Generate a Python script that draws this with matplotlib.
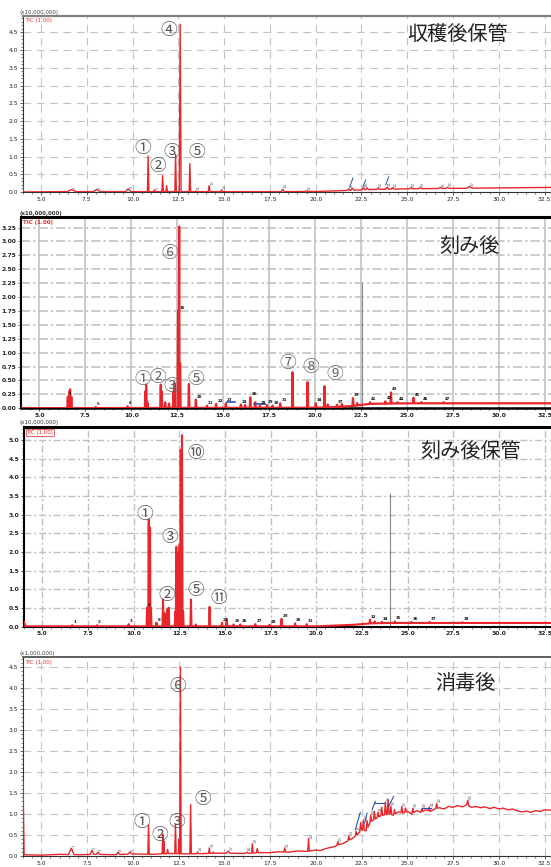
import numpy as np
import matplotlib
matplotlib.use('Agg')
import matplotlib.pyplot as plt
from matplotlib.ticker import MultipleLocator, FormatStrFormatter

plt.rcParams['font.family'] = ['DejaVu Sans']
CJK = ['Noto Sans CJK JP', 'DejaVu Sans']

# ------------------------------------------------------------------ data
x_ticks = [5.0, 7.5, 10.0, 12.5, 15.0, 17.5, 20.0, 22.5, 25.0, 27.5, 30.0, 32.5]

# Panel 1 : 収穫後保管  (x10,000,000)
p1_title = '収穫後保管'
p1_scale = '(x10,000,000)'
p1_start = 0.20
p1_rt = [6.67, 8.04, 9.76, 10.85, 11.2, 11.64, 11.86, 12.35, 12.6, 13.13, 13.45, 14.18, 14.86,
         18.2, 19.5, 21.8, 22.0, 22.6, 22.8, 23.4, 23.9, 24.2, 25.2, 25.7, 26.8, 27.2, 28.4]
p1_h = [0.06, 0.06, 0.08, 1.0, 0.05, 0.45, 0.17, 1.05, 4.72, 0.79, 0.02, 0.17, 0.05,
        0.07, 0.02, 0.04, 0.06, 0.06, 0.05, 0.04, 0.06, 0.04, 0.03, 0.03, 0.03, 0.03, 0.05]
p1_w = [0.25, 0.2, 0.15, 0.04, 0.04, 0.04, 0.04, 0.04, 0.05, 0.04, 0.04, 0.05, 0.05,
        0.08, 0.08, 0.08, 0.08, 0.08, 0.08, 0.08, 0.08, 0.08, 0.1, 0.1, 0.1, 0.1, 0.15]
p1_base_t = [4.05, 6, 8, 10, 14, 18, 20, 21, 22, 23, 24, 25, 27, 29, 31, 32.9]
p1_base_y = [0.0, 0.01, 0.01, 0.01, 0.01, 0.01, 0.015, 0.03, 0.05, 0.07, 0.08, 0.09, 0.1, 0.11, 0.12, 0.13]
p1_marks = ['①', '②', '③', '④', '⑤']
p1_mark_x = [10.58, 11.40, 12.13, 11.98, 13.53]
p1_mark_y = [1.23, 0.71, 1.12, 4.55, 1.12]
p1_blue = [(21.86, 0.15, 22.04, 0.40), (22.58, 0.15, 22.73, 0.34), (23.82, 0.20, 23.99, 0.43)]

# Panel 2 : 刻み後
p2_title = '刻み後'
p2_scale = '(x10,000,000)'
p2_rt = [6.55, 6.62, 6.67, 6.74, 8.07, 9.8, 10.77, 10.81, 10.88, 11.61, 11.66, 11.85, 12.06,
         12.3, 12.35, 12.55, 12.61, 12.66, 13.14, 13.52, 14.12, 14.62, 15.15, 15.97, 16.2,
         16.48, 16.75, 17.0, 17.39, 17.7, 18.11, 18.78, 19.6, 20.05, 20.52, 20.7, 21.2, 21.47,
         22.07, 22.3, 23.0, 23.83, 24.14, 24.5, 25.37, 25.8, 27.0]
p2_h = [0.2, 0.3, 0.34, 0.2, 0.02, 0.03, 0.3, 0.42, 0.1, 0.42, 0.3, 0.1, 0.08,
        0.3, 0.45, 1.75, 3.26, 0.8, 0.43, 0.15, 0.04, 0.07, 0.08, 0.06, 0.05,
        0.19, 0.1, 0.04, 0.05, 0.04, 0.08, 0.64, 0.46, 0.08, 0.38, 0.05, 0.04, 0.05,
        0.14, 0.04, 0.03, 0.04, 0.2, 0.02, 0.1, 0.02, 0.02]
p2_w = [0.03] * len(p2_rt)
p2_base_t = [4.0, 10, 20, 21, 22, 22.5, 23, 25, 28, 32.9]
p2_base_y = [0.0, 0.005, 0.01, 0.02, 0.04, 0.06, 0.08, 0.09, 0.09, 0.09]
p2_marks = ['⑥', '①', '②', '③', '⑤', '⑦', '⑧', '⑨']
p2_mark_x = [12.08, 10.60, 11.44, 12.21, 13.50, 18.51, 19.78, 21.05]
p2_mark_y = [2.78, 0.51, 0.55, 0.39, 0.51, 0.81, 0.73, 0.61]
p2_blue = [(15.2, 0.11, 15.66, 0.11), (16.69, 0.08, 17.29, 0.08)]
p2_gray = (22.56, 2.25)

# Panel 3 : 刻み後保管
p3_title = '刻み後保管'
p3_scale = '(x10,000,000)'
p3_start = 0.13
p3_rt = [6.64, 8.0, 9.73, 10.74, 10.83, 10.9, 10.95, 11.25, 11.61, 11.7, 11.83, 11.92, 12.28,
         12.34, 12.43, 12.52, 12.58, 12.65, 12.71, 13.14, 13.41, 14.16, 14.84, 15.1, 15.47,
         15.84, 16.66, 17.44, 18.1, 18.84, 19.48, 22.94, 23.2, 23.6, 24.3, 25.2, 26.2, 28.0]
p3_h = [0.03, 0.03, 0.06, 0.5, 2.86, 2.65, 0.5, 0.1, 0.72, 0.35, 0.45, 0.5, 0.4,
        2.13, 1.97, 2.19, 4.73, 5.12, 0.4, 0.72, 0.05, 0.52, 0.1, 0.2, 0.05,
        0.05, 0.06, 0.04, 0.2, 0.08, 0.06, 0.1, 0.05, 0.04, 0.04, 0.03, 0.03, 0.02]
p3_w = [0.03] * len(p3_rt)
p3_base_t = [4.08, 10, 20, 21, 22, 22.5, 23, 24, 26, 28, 30, 32.9]
p3_base_y = [0.01, 0.01, 0.01, 0.03, 0.05, 0.07, 0.09, 0.1, 0.1, 0.1, 0.1, 0.1]
p3_marks = ['⑩', '①', '③', '②', '⑤', '⑪']
p3_mark_x = [13.38, 10.61, 11.97, 11.83, 13.38, 14.65]
p3_mark_y = [4.64, 3.01, 2.38, 0.83, 0.98, 0.76]
p3_gray = (24.03, 3.59)

# Panel 4 : 消毒後  (x1,000,000)
p4_title = '消毒後'
p4_scale = '(x1,000,000)'
p4_start = 1.80
p4_rt = [6.64, 7.77, 8.1, 9.2, 9.84, 10.86, 11.64, 11.7, 11.9, 12.33, 12.52, 12.6, 13.16,
         13.54, 14.18, 14.4, 15.22, 16.22, 16.53, 16.8, 18.3, 19.6, 21.2, 21.8, 22.2, 22.45,
         22.6, 22.8, 23.0, 23.2, 23.4, 23.6, 23.8, 23.95, 24.1, 24.3, 24.7, 24.9, 25.3, 25.8,
         26.2, 26.6, 28.3]
p4_h = [0.15, 0.1, 0.05, 0.06, 0.05, 0.7, 0.46, 0.3, 0.1, 0.7, 0.35, 4.45, 1.17,
        0.04, 0.13, 0.03, 0.05, 0.02, 0.22, 0.1, 0.1, 0.3, 0.08, 0.1, 0.1, 0.2,
        0.25, 0.2, 0.15, 0.2, 0.12, 0.2, 0.3, 0.35, 0.2, 0.12, 0.15, 0.1, 0.12, 0.08,
        0.1, 0.12, 0.12]
p4_w = [0.15, 0.1, 0.1, 0.1, 0.1, 0.04, 0.04, 0.03, 0.04, 0.04, 0.03, 0.04, 0.04,
        0.05, 0.04, 0.05, 0.1, 0.1, 0.04, 0.05, 0.05, 0.04, 0.05, 0.05, 0.05, 0.05,
        0.05, 0.05, 0.05, 0.05, 0.05, 0.05, 0.05, 0.05, 0.05, 0.05, 0.05, 0.05, 0.05, 0.05,
        0.05, 0.05, 0.06]
p4_base_t = [4.06, 5, 6, 7, 8, 9, 10, 11, 12, 13, 14, 15, 16, 17, 17.5, 18, 18.5, 19, 19.5,
             20, 20.25, 20.5, 20.75, 21, 21.25, 21.5, 21.75, 22, 22.25, 22.5, 22.75, 23, 23.25,
             23.5, 23.75, 24, 24.25, 24.5, 24.75, 25, 25.25, 25.5, 25.75, 26, 26.25, 26.5,
             26.75, 27, 27.25, 27.5, 27.75, 28, 28.25, 28.5, 28.75, 29, 29.25, 29.5, 29.75,
             30, 30.25, 30.5, 30.75, 31, 31.25, 31.5, 31.75, 32, 32.25, 32.5, 32.9]
p4_base_y = [0.03, 0.02, 0.04, 0.03, 0.04, 0.03, 0.05, 0.04, 0.06, 0.05, 0.06, 0.07, 0.06,
             0.08, 0.08, 0.1, 0.09, 0.12, 0.11, 0.14, 0.13, 0.17, 0.2, 0.22, 0.27, 0.3, 0.36,
             0.42, 0.5, 0.62, 0.6, 0.82, 0.88, 0.95, 0.98, 1.0, 0.97, 1.05, 1.02, 1.06, 1.0,
             1.08, 1.04, 1.1, 1.06, 1.12, 1.15, 1.12, 1.18, 1.16, 1.2, 1.17, 1.22, 1.16, 1.18,
             1.15, 1.17, 1.13, 1.16, 1.12, 1.14, 1.1, 1.12, 1.08, 1.05, 1.07, 1.04, 1.08,
             1.06, 1.1, 1.09]
p4_marks = ['⑥', '①', '②', '③', '⑤']
p4_mark_x = [12.43, 10.51, 11.48, 12.39, 13.80]
p4_mark_y = [4.03, 0.79, 0.49, 0.80, 1.34]
p4_blue = [(22.16, 0.63, 22.43, 1.04), (22.67, 0.79, 22.80, 1.02), (23.07, 1.10, 23.25, 1.30),
           (23.16, 1.26, 23.80, 1.26), (23.98, 1.18, 24.25, 1.42), (25.81, 1.14, 26.27, 1.14)]

# ------------------------------------------------------------------ helpers
def build_trace(rt, h, w, bt, by, start=None):
    rt = np.asarray(rt, float); h = np.asarray(h, float); w = np.asarray(w, float)
    bt = np.asarray(bt, float); by = np.asarray(by, float)
    keep = np.ones(len(bt), bool)
    for r, ww in zip(rt, w):
        keep &= ~((bt > r - ww) & (bt < r + ww))
    pts = list(zip(bt[keep], by[keep]))
    for r, hh, ww in zip(rt, h, w):
        pts.append((r - ww, np.interp(r - ww, bt, by)))
        pts.append((r, np.interp(r, bt, by) + hh))
        pts.append((r + ww, np.interp(r + ww, bt, by)))
    pts.sort(key=lambda p: p[0])
    xs = [p[0] for p in pts]
    ys = [p[1] for p in pts]
    if start is not None:
        xs = [4.0] + xs
        ys = [start] + ys
    return np.array(xs), np.array(ys), np.interp(rt, bt, by) + h


W, H = 551, 867
fig = plt.figure(figsize=(W / 100, H / 100), dpi=100)


def axes_px(left, top, right, bottom):
    return fig.add_axes([left / W, 1 - bottom / H, (right - left) / W, (bottom - top) / H])


def style(ax, ylim, ystep, yminor, yfmt, bold=False):
    ax.set_xlim(4.0, 32.85)
    ax.set_ylim(*ylim)
    ax.set_xticks(x_ticks)
    ax.xaxis.set_minor_locator(MultipleLocator(0.5))
    ax.yaxis.set_major_locator(MultipleLocator(ystep))
    ax.yaxis.set_minor_locator(MultipleLocator(yminor))
    ax.yaxis.set_major_formatter(FormatStrFormatter(yfmt))
    ax.xaxis.set_major_formatter(FormatStrFormatter('%.1f'))
    ax.tick_params(which='major', labelsize=4.3, length=2.2, width=0.5, pad=1.2,
                   colors='#222', direction='out')
    ax.tick_params(which='minor', length=1.2, width=0.4, direction='out', colors='#222')
    ax.spines['right'].set_visible(False)
    ax.set_axisbelow(True)
    if bold:
        for lab in ax.get_xticklabels() + ax.get_yticklabels():
            lab.set_fontweight('bold')


def draw_marks(ax, marks, mx, my, color='#555'):
    for m, x, y in zip(marks, mx, my):
        ax.text(x, y, m, fontsize=12, family=CJK, color=color, ha='center', va='center',
                zorder=6)


def draw_tags(ax, rt, tops, rotate, bold, color, marks_x, marks_y, ymax):
    last = -99
    n = 0
    for r, t in zip(rt, tops):
        n += 1
        if r - last < 0.3:
            continue
        if any(abs(r - mx) < 0.9 and abs(t - my) < 0.09 * ymax for mx, my in zip(marks_x, marks_y)):
            last = r
            continue
        ax.text(r + 0.06, t + 0.005 * ymax, str(n), fontsize=2.8, color=color,
                rotation=90 if rotate else 0, ha='left', va='bottom',
                fontweight='bold' if bold else 'normal', zorder=5)
        last = r


RED = '#e8262b'

# ---------------- panel 1
ax1 = axes_px(22.7, 15.7, 551, 192)
style(ax1, (0, 4.97), 0.5, 0.1, '%.1f')
ax1.grid(True, which='major', color='#c4c4c4', linestyle=(0, (7, 5)), lw=0.8)
ax1.spines['top'].set_color('#808080'); ax1.spines['top'].set_linewidth(1.6)
for s in ('left', 'bottom'):
    ax1.spines[s].set_color('#333'); ax1.spines[s].set_linewidth(0.8)
x, y, tops = build_trace(p1_rt, p1_h, p1_w, p1_base_t, p1_base_y, p1_start)
ax1.plot(x, y, color=RED, lw=1.0, zorder=3)
for (a, b, c, d) in p1_blue:
    ax1.plot([a, c], [b, d], color='#3050b0', lw=0.7, zorder=4)
draw_tags(ax1, p1_rt, tops, True, False, '#666', p1_mark_x, p1_mark_y, 4.97)
draw_marks(ax1, p1_marks, p1_mark_x, p1_mark_y)
fig.text(20 / W, 1 - 12.7 / H, p1_scale, fontsize=4, color='#444', va='center')
ax1.text(0.004, 0.985, 'TIC (1.00)', transform=ax1.transAxes, fontsize=4, color=RED,
         va='top', ha='left')
fig.text(457.5 / W, 1 - 35 / H, p1_title, fontsize=14.5, family=CJK, color='#222',
         ha='center', va='center')

# ---------------- panel 2
ax2 = axes_px(21, 217, 551, 408.3)
style(ax2, (0, 3.44), 0.25, 0.05, '%.2f', bold=True)
ax2.grid(True, which='major', axis='x', color='#bdbdbd', linestyle='-', lw=1.1)
ax2.grid(True, which='major', axis='y', color='#bdbdbd', linestyle=(0, (6, 2, 1.5, 2)), lw=1.1)
ax2.spines['top'].set_color('black'); ax2.spines['top'].set_linewidth(2.2)
ax2.spines['left'].set_linewidth(1.5); ax2.spines['bottom'].set_linewidth(1.8)
x, y, tops = build_trace(p2_rt, p2_h, p2_w, p2_base_t, p2_base_y)
ax2.plot(x, y, color=RED, lw=1.6, zorder=3)
ax2.vlines(p2_gray[0], 0, p2_gray[1], color='#888', lw=0.8, zorder=2)
for (a, b, c, d) in p2_blue:
    ax2.plot([a, c], [b, d], color='#3050b0', lw=1.2, zorder=4)
draw_tags(ax2, p2_rt, tops, False, True, '#111', p2_mark_x, p2_mark_y, 3.44)
draw_marks(ax2, p2_marks, p2_mark_x, p2_mark_y, '#666')
fig.text(20 / W, 1 - 213.5 / H, p2_scale, fontsize=4, color='#333', va='center',
         fontweight='bold')
ax2.text(0.004, 0.985, 'TIC (1.00)', transform=ax2.transAxes, fontsize=4, color=RED,
         va='top', ha='left', fontweight='bold')
fig.text(470 / W, 1 - 246.7 / H, p2_title, fontsize=14.5, family=CJK, color='#222',
         ha='center', va='center')

# ---------------- panel 3
ax3 = axes_px(24, 427, 551, 626.7)
style(ax3, (0, 5.35), 0.5, 0.1, '%.1f', bold=True)
ax3.grid(True, which='major', color='#c0c0c0', linestyle=(0, (5, 2, 1.5, 2)), lw=1.0)
ax3.spines['top'].set_color('black'); ax3.spines['top'].set_linewidth(2.2)
ax3.spines['left'].set_linewidth(1.5); ax3.spines['bottom'].set_linewidth(1.5)
x, y, tops = build_trace(p3_rt, p3_h, p3_w, p3_base_t, p3_base_y, p3_start)
ax3.plot(x, y, color=RED, lw=1.5, zorder=3)
ax3.vlines(p3_gray[0], 0, p3_gray[1], color='#888', lw=0.8, zorder=2)
draw_tags(ax3, p3_rt, tops, False, True, '#111', p3_mark_x, p3_mark_y, 5.35)
draw_marks(ax3, p3_marks, p3_mark_x, p3_mark_y)
fig.text(20 / W, 1 - 423 / H, p3_scale, fontsize=4, color='#333', va='center')
ax3.text(0.004, 0.985, 'TIC (1.00)', transform=ax3.transAxes, fontsize=4, color=RED,
         va='top', ha='left', bbox=dict(boxstyle='square,pad=0.1', fc='white', ec=RED, lw=0.5))
fig.text(470.7 / W, 1 - 451.7 / H, p3_title, fontsize=14.5, family=CJK, color='#222',
         ha='center', va='center')

# ---------------- panel 4
ax4 = axes_px(23, 657, 551, 856)
style(ax4, (0, 4.74), 0.5, 0.1, '%.1f')
ax4.grid(True, which='major', color='#c4c4c4', linestyle=(0, (7, 5)), lw=0.8)
ax4.spines['top'].set_color('#444'); ax4.spines['top'].set_linewidth(1.2)
for s in ('left', 'bottom'):
    ax4.spines[s].set_color('#333'); ax4.spines[s].set_linewidth(0.8)
x, y, tops = build_trace(p4_rt, p4_h, p4_w, p4_base_t, p4_base_y, p4_start)
ax4.plot(x, y, color=RED, lw=1.0, zorder=3)
for (a, b, c, d) in p4_blue:
    ax4.plot([a, c], [b, d], color='#3050b0', lw=0.8, zorder=4)
draw_tags(ax4, p4_rt, tops, True, False, '#666', p4_mark_x, p4_mark_y, 4.74)
draw_marks(ax4, p4_marks, p4_mark_x, p4_mark_y)
fig.text(20 / W, 1 - 654 / H, p4_scale, fontsize=4, color='#444', va='center')
ax4.text(0.004, 0.985, 'TIC (1.00)', transform=ax4.transAxes, fontsize=4, color=RED,
         va='top', ha='left')
fig.text(465.3 / W, 1 - 683.3 / H, p4_title, fontsize=14.5, family=CJK, color='#222',
         ha='center', va='center')

fig.savefig('out.png', dpi=100)
